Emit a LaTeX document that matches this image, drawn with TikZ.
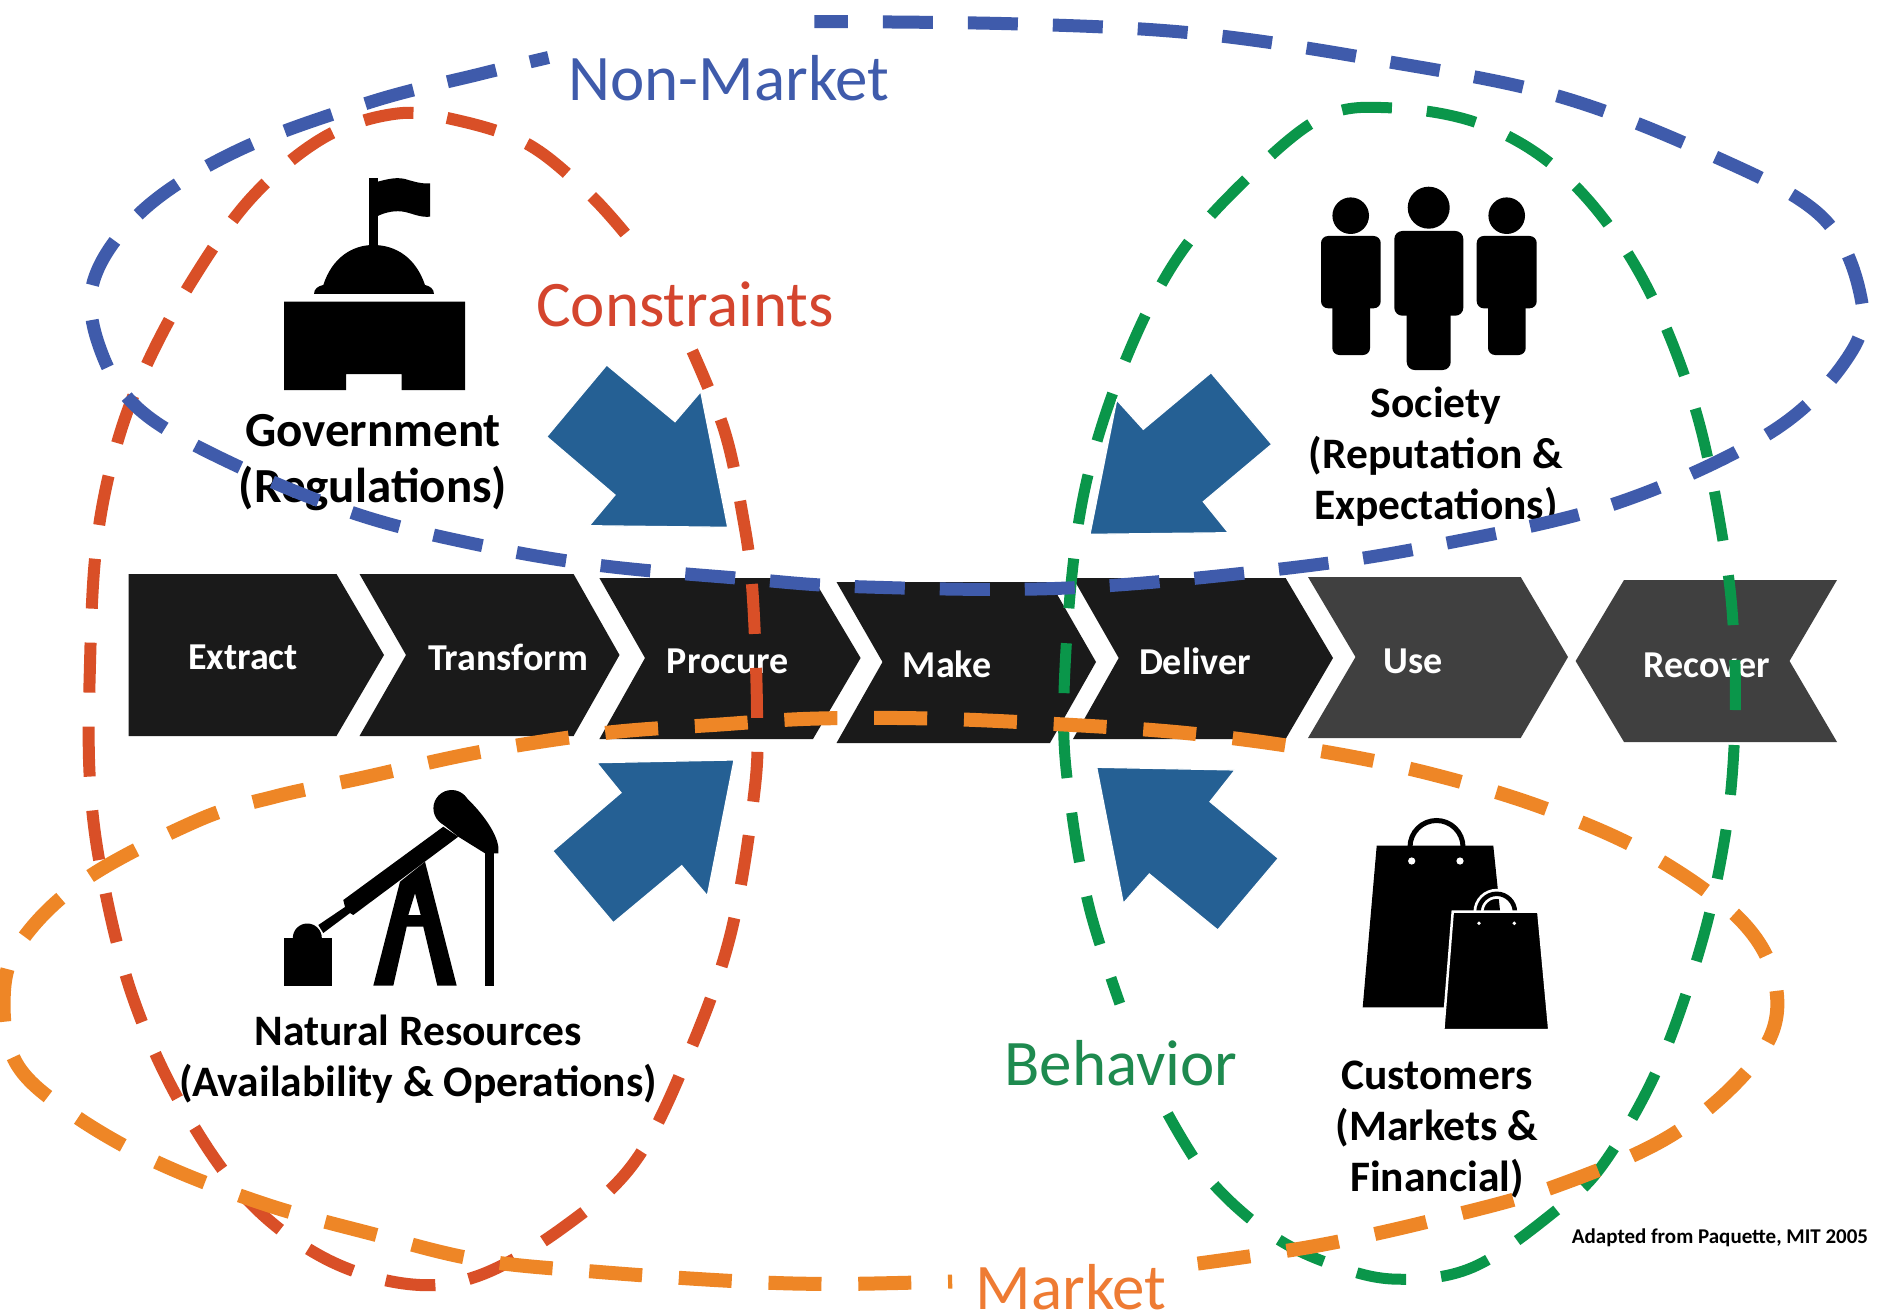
\documentclass[tikz,border=0pt]{standalone}
\usepackage{fontspec}
\setmainfont{Carlito}
\definecolor{chevA}{HTML}{1A1A1A}
\definecolor{chevB}{HTML}{404040}
\definecolor{bluearrow}{HTML}{256094}
\definecolor{lnblue}{HTML}{3F5BAB}
\definecolor{lnred}{HTML}{D94F27}
\definecolor{lngreen}{HTML}{0A964A}
\definecolor{lnorange}{HTML}{EE8626}
\definecolor{txtred}{HTML}{D4452E}
\definecolor{txtgreen}{HTML}{1E8A4F}
\definecolor{txtorange}{HTML}{EE7B33}
\tikzset{
  chev/.style={fill=chevA,draw=none},
  chevgray/.style={fill=chevB,draw=none},
  chevlabel/.style={text=white,font=\bfseries\fontsize{38}{44}\selectfont,inner sep=0pt},
  bigarrow/.style={fill=bluearrow,draw=white,line width=1.2pt},
  icon/.style={fill=black,draw=none},
  loopline/.style={line width=#1,x=1.1977pt,y=-1.1977pt},
  body/.style={text=black,font=\bfseries\fontsize{43.5}{51}\selectfont,align=center,inner sep=0pt},
  title/.style={font=\fontsize{65}{70}\selectfont,inner sep=0pt},
}
\begin{document}
\begin{tikzpicture}[x=1pt,y=-1pt]
\useasboundingbox (0,0) rectangle (1878,1313);
\fill[white] (0,0) rectangle (1878,1313);
% chevrons
\fill[chev] (128.7,574) -- (336.5,574) -- (384,655) -- (336.5,736) -- (128.7,736) -- cycle;
\fill[chev] (359.5,574) -- (573.6,574) -- (619.5,655) -- (573.6,736) -- (359.5,736) -- (406,655) -- cycle;
\fill[chev] (599.4,578) -- (813,578) -- (860.6,658) -- (813,739) -- (599.4,739) -- (645,658) -- cycle;
\fill[chev] (836.5,582) -- (1050,582) -- (1096,662) -- (1050,743) -- (836.5,743) -- (882.5,662) -- cycle;
\fill[chev] (1073,578) -- (1285.6,578) -- (1333,658) -- (1285.6,739) -- (1073,739) -- (1118.7,658) -- cycle;
\fill[chevgray] (1308,577) -- (1520.7,577) -- (1568,657) -- (1520.7,738) -- (1308,738) -- (1355.5,657) -- cycle;
\fill[chevgray] (1624,580) -- (1837,580) -- (1789.5,661) -- (1837,742) -- (1624,742) -- (1575.6,661) -- cycle;
\node[chevlabel] (extract) at (243,657) {Extract};
\node[chevlabel] (transform) at (508,657) {Transform};
\node[chevlabel] (procure) at (728,661) {Procure};
\node[chevlabel] (make) at (947,664) {Make};
\node[chevlabel] (deliver) at (1195,661) {Deliver};
\node[chevlabel] (use) at (1413,661) {Use};
\node[chevlabel] (recover) at (1707,665) {Recover};
% capitol
\fill[icon] (284,301.7) -- (465,301.7) -- (465,390) -- (401.7,390) -- (401.7,374) -- (346,374) -- (346,390) -- (284,390) -- cycle;
\fill[icon] (314,294) .. controls (314,289) and (318,286) .. (323.3,285) .. controls (332,258) and (352,245) .. (373.3,245) .. controls (396,245) and (416,258) .. (425,285) .. controls (430,286) and (434,289) .. (434,294) -- cycle;
\fill[icon] (369.3,177.7) rectangle (377.7,247);
\fill[icon] (377.7,181.7) .. controls (388,179) and (396,177) .. (405,179) .. controls (415,182) and (422,184) .. (430,183.3) -- (430,216.7) .. controls (420,217.5) and (414,214) .. (405,212) .. controls (396,210) and (386,212) .. (377.7,216) -- cycle;
% people
\fill[icon] (1350.7,215.7) circle (18.3);
\fill[icon,rounded corners=7pt] (1321,236) rectangle (1380.7,308.3);
\fill[icon,rounded corners=7pt] (1332.3,290) rectangle (1370,355);
\fill[icon] (1428.7,207.7) circle (21);
\fill[icon,rounded corners=8pt] (1394.3,231) rectangle (1463.3,315.7);
\fill[icon,rounded corners=8pt] (1406.7,295) rectangle (1450.7,370);
\fill[icon] (1506.7,215.7) circle (18.3);
\fill[icon,rounded corners=7pt] (1476.7,236) rectangle (1536.7,308.3);
\fill[icon,rounded corners=7pt] (1488,290) rectangle (1525.7,355);
% oil pump
\fill[icon] (284,938.3) rectangle (332.3,985.7);
\fill[icon] (307.3,938) circle (14.5);
\fill[icon] (318.3,925) -- (345,907) -- (343.3,900) -- (443.3,826.7) -- (458.3,836.7) -- (353.3,915) -- (350,913) -- (323.3,933) -- cycle;
\fill[icon] (451.7,808.3) circle (18.3);
\fill[icon] (463.3,795) .. controls (478,808) and (496,830) .. (498.3,846.7) -- (498.3,853.3) -- (485,853.3) -- (458.3,836.7) -- (440,822) -- cycle;
\fill[icon] (485,853.3) rectangle (494.3,985.7);
\fill[icon,even odd rule] (400,881.7) -- (373.3,985.7) -- (393.3,985.7) -- (406.7,926.7) -- (423.3,926.7) -- (437.3,985.7) -- (456.7,985.7) -- (425,861.7) -- cycle (415,893.3) -- (408.3,915) -- (420.7,915) -- cycle;
% bags
\fill[icon] (1376.7,845.7) -- (1493.3,845.7) -- (1510,1007.3) -- (1362.7,1007.3) -- cycle;
\draw[line width=5pt,black] (1410,847) arc[start angle=180,end angle=360,radius=26.5];
\fill[white] (1411.7,861) circle (3.6) (1460,861) circle (3.6);
\draw[line width=4.5pt,black,preaction={draw=white,line width=10pt}] (1478.5,912) arc[start angle=180,end angle=360,radius=18.2];
\fill[icon,draw=white,line width=2.5pt] (1452.7,911.7) -- (1538.3,911.7) -- (1549.3,1030) -- (1443.3,1030) -- cycle;
\fill[white] (1479,923.3) circle (1.9) (1514.3,923.3) circle (1.9);
% texts
\node[body,font=\bfseries\fontsize{49}{56}\selectfont] (govt) at (373,463) {Government\\(Regulations)};
\node[body] (society) at (1436,457) {Society\\(Reputation \&\\Expectations)};
\node[body] (natural) at (418,1059) {Natural Resources\\(Availability \& Operations)};
\node[body] (customers) at (1437,1130) {Customers\\(Markets \&\\Financial)};
\node[title,text=lnblue] (nonmarket) at (729,78) {Non-Market};
\node[title,text=txtred] (constraints) at (685,304) {Constraints};
\node[title,text=txtgreen] (behavior) at (1121,1063) {Behavior};
\node[title,text=txtorange] (market) at (1071,1287) {Market};
\node[inner sep=0pt,font=\bfseries\fontsize{21}{25}\selectfont] (adapted) at (1720,1238) {Adapted from Paquette, MIT 2005};
% loops
\draw[loopline=12pt,lnred,dash pattern=on 50pt off 34pt] plot[smooth,tension=0.6] coordinates {(522,195) (490,160) (440,120) (380,100) (330,95) (270,115) (210,165) (160,235) (120,310) (95,380) (80,460) (75,560) (75,650) (85,730) (110,830) (150,920) (205,1000) (270,1050) (340,1072) (400,1065) (470,1025) (530,970) (575,880) (610,780) (630,660) (632,590) (628,490) (620,430) (605,360) (578,293)};
\draw[loopline=11pt,lngreen,dash pattern=on 50pt off 35pt] plot[smooth,tension=0.6] coordinates {(975,930) (1010,985) (1060,1030) (1110,1055) (1165,1068) (1230,1058) (1300,1010) (1340,970) (1385,890) (1420,790) (1440,700) (1448,620) (1448,540) (1440,460) (1415,340) (1370,230) (1310,150) (1240,105) (1160,90) (1100,100) (1030,160) (980,220) (940,300) (910,390) (895,480) (888,600) (895,680) (910,760) (935,838)};
\draw[loopline=13pt,lnblue,dash pattern=on 50pt off 35pt,dash phase=31pt] plot[smooth,tension=0.6] coordinates {(458,48) (400,62) (310,85) (200,125) (120,175) (78,235) (85,295) (120,345) (200,390) (300,430) (400,455) (500,472) (620,483) (720,490) (890,491) (1070,475) (1200,455) (1350,420) (1480,360) (1545,295) (1553,245) (1520,180) (1430,130) (1300,80) (1150,50) (1000,28) (850,20) (680,18)};
\draw[loopline=14pt,lnorange,dash pattern=on 53pt off 36.8pt] plot[smooth,tension=0.6] coordinates {(1000,1055) (1100,1040) (1200,1018) (1300,990) (1400,945) (1470,880) (1483,825) (1455,770) (1380,715) (1290,675) (1190,645) (1090,625) (990,612) (890,605) (780,600) (680,600) (600,605) (505,612) (400,628) (300,650) (230,665) (165,685) (70,735) (15,790) (3,840) (15,890) (60,930) (130,970) (220,1005) (310,1030) (400,1052) (500,1062) (620,1070) (700,1072) (795,1070)};
% arrows
\fill[bigarrow] (606.7,365) -- (546.7,436.7) -- (615,495) -- (589.3,525.7) -- (727.7,527.3) -- (700.7,391.7) -- (675,421.7) -- cycle;
\fill[bigarrow] (1211,372.7) -- (1271.7,444.3) -- (1203.3,501.7) -- (1228.3,532.7) -- (1090,534.3) -- (1116.7,400) -- (1143.3,429.3) -- cycle;
\fill[bigarrow] (596.7,762.7) -- (734,760) -- (707.3,895.7) -- (681.7,865.7) -- (613.3,922.7) -- (552.7,851) -- (621,792.7) -- cycle;
\fill[bigarrow] (1096.7,767.3) -- (1235,770) -- (1210,801.7) -- (1278.3,858.3) -- (1217.7,930) -- (1149.3,874) -- (1123.3,903.3) -- cycle;
\end{tikzpicture}
\end{document}
